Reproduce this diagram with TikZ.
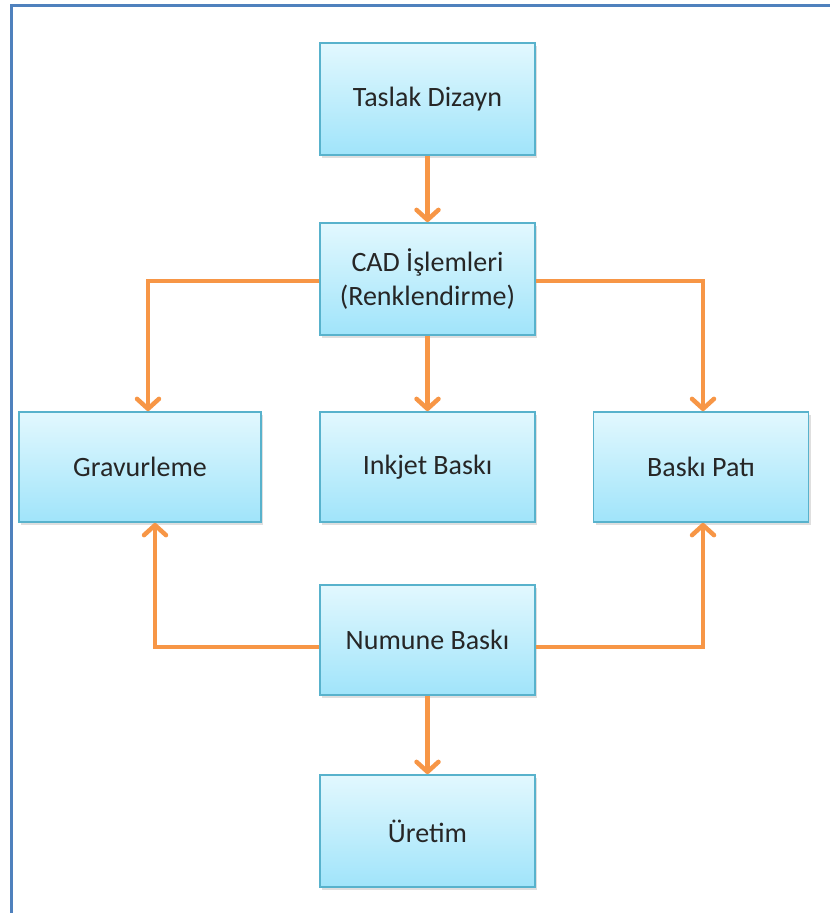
\documentclass[tikz,border=0pt]{standalone}
\usepackage{fontspec}
\setmainfont{Carlito}
\usetikzlibrary{arrows.meta, shadows}
\definecolor{boxtop}{RGB}{226,248,254}
\definecolor{boxbot}{RGB}{160,228,250}
\definecolor{boxline}{RGB}{88,178,204}
\definecolor{flowc}{RGB}{247,150,70}
\definecolor{framec}{RGB}{79,129,189}
\begin{document}
\begin{tikzpicture}[x=1pt, y=-1pt,
  every node/.style={font=\fontsize{28}{34}\selectfont, text=black!85},
  stepbox/.style={draw=boxline, line width=1.8pt, top color=boxtop, bottom color=boxbot,
    minimum width=215pt, minimum height=112pt, align=center,
    drop shadow={shadow xshift=2pt, shadow yshift=-3pt, opacity=0.25}},
  flow/.style={draw=flowc, line width=4.5pt,
    -{Straight Barb[length=10pt, width=22pt, line cap=round, line join=round]}}]
  % frame
  \useasboundingbox (0,0) rectangle (830,913);
  \draw[framec, line width=3pt] (11,913) -- (11,5) -- (830,5);
  % boxes
  \node[stepbox] (taslak) at (427.5,99)  {Taslak Dizayn};
  \node[stepbox] (cad)    at (427.5,279) {CAD İşlemleri\\(Renklendirme)};
  \node[stepbox, minimum width=242pt, minimum height=110pt] (grav) at (140,467) {Gravurleme};
  \node[stepbox, minimum height=110pt] (inkjet) at (427.5,467) {Inkjet Baskı};
  \node[stepbox, minimum height=110pt] (baski)  at (701,467)   {Baskı Patı};
  \node[stepbox, minimum height=110pt] (numune) at (427.5,640) {Numune Baskı};
  \node[stepbox] (uretim) at (427.5,831) {Üretim};
  % arrows
  \draw[flow] (taslak) -- (cad);
  \draw[flow] (cad) -- (inkjet);
  \draw[flow] ([yshift=-2pt]cad.west) -| ([xshift=8pt]grav.north);
  \draw[flow] ([yshift=-2pt]cad.east) -| ([xshift=2pt]baski.north);
  \draw[flow] ([yshift=-7pt]numune.west) -| ([xshift=15pt]grav.south);
  \draw[flow] ([yshift=-7pt]numune.east) -| ([xshift=2pt]baski.south);
  \draw[flow] (numune) -- (uretim);
\end{tikzpicture}
\end{document}
